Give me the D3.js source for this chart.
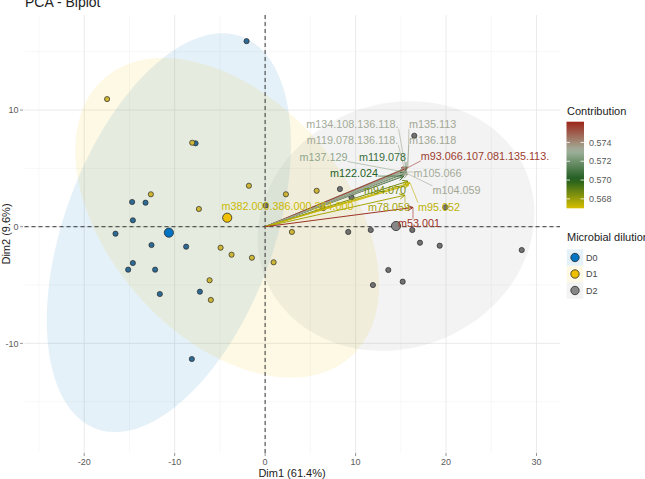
<!DOCTYPE html>
<html lang="en">
<head>
<meta charset="UTF-8">
<script src="https://cdn.jsdelivr.net/npm/d3@7"></script>
<title>PCA - Biplot</title>
<style>
  body { margin: 0; background: #fff; }
  svg { display: block; font-family: 'Liberation Sans', Arial, sans-serif; }
</style>
</head>
<body>
<svg id="chart" width="645" height="479"></svg>
<script>
// individuals, one list per microbial dilution group (Dim1, Dim2)
const groups = ["D0", "D1", "D2"];
const d0x = [-7.69, -14.70, -13.22, -14.62, -16.54, -12.56, -8.73, -14.62, -15.14, -12.16, -11.64, -7.21, -2.05, -8.10];
const d0y = [7.15, 2.12, 2.06, 0.55, -0.60, -1.57, -1.71, -3.11, -3.68, -3.68, -5.77, -5.57, 15.91, -11.34];
const d1x = [-8.06, -17.47, -12.63, -1.79, -7.32, -4.92, -3.71, -1.46, 0.94, -6.14, -6.00, 2.30, 5.70, 2.96, 6.43];
const d1y = [7.20, 10.94, 2.78, 3.51, 1.52, -1.80, -2.40, -2.66, -3.05, -4.59, -6.28, 2.78, 3.08, -0.45, 1.60];
const d2x = [0.06, 8.27, 9.55, 9.19, 11.68, 16.27, 17.12, 19.30, 28.37, 13.62, 15.21, 11.92, 16.49, 19.94];
const d2y = [1.82, 3.23, 2.52, -0.45, -0.28, -0.28, -1.37, -1.63, -2.00, -3.71, -4.71, -5.00, 7.80, 1.66];

// group means and their 95% ellipses (half width, half height, correlation)
const meanX = [-10.64, -4.19, 14.47];
const meanY = [-0.51, 0.77, 0.06];
const ellRx = [13.5, 16.8, 15.3];
const ellRy = [17.1, 13.7, 10.7];
const ellRho = [0.44, -0.42, 0.1];

// variables: arrow tips, contribution, and repelled label positions
const varNames = ["m134.108.136.118.", "m135.113", "m119.078.136.118.", "m136.118", "m137.129",
  "m119.078", "m93.066.107.081.135.113.", "m122.024", "m105.066", "m104.059",
  "m94.070", "m382.000.386.000.384.000", "m78.059", "m95.052", "m53.001"];
const varX = [15.58, 15.80, 15.46, 15.69, 15.35, 15.58, 15.69, 15.35, 15.69, 15.80, 15.80, 15.91, 15.46, 16.02, 16.35];
const varY = [4.86, 5.12, 4.77, 4.94, 4.69, 4.60, 5.03, 4.34, 4.69, 4.52, 3.90, 3.60, 2.70, 3.75, 1.65];
const varContrib = [0.5733, 0.5734, 0.5733, 0.5734, 0.5727, 0.5707, 0.5757, 0.5702, 0.5733, 0.5734,
  0.5686, 0.5672, 0.5678, 0.5674, 0.5759];
const labelX = [9.65, 18.51, 9.66, 18.51, 6.45, 12.98, 24.31, 9.82, 19.06, 21.16, 13.25, 2.47, 13.69, 19.23, 17.01];
const labelY = [8.80, 8.80, 7.43, 7.43, 6.00, 5.97, 6.06, 4.60, 4.60, 3.14, 3.14, 1.80, 1.69, 1.69, 0.32];

const contribTicks = [0.568, 0.570, 0.572, 0.574];
const contribRange = [0.567, 0.5762];
const gradientCols = ["#d6bf00", "#1e5c1e", "#a3b39f", "#9c2619"];

const xTicks = [-20, -10, 0, 10, 20, 30];
const xMinor = [-25, -15, -5, 5, 15, 25];
const yTicks = [-10, 0, 10];
const yMinor = [-15, -5, 5, 15];

const fills = ["#0073C2", "#EFC000", "#868686"];
const smallFill = ["#2d6a94", "#cdb536", "#717171"];

const svg = d3.select("#chart");
const x = d3.scaleLinear().domain([-26.6, 32.6]).range([24.5, 560]);
const y = d3.scaleLinear().domain([-19.4, 18.15]).range([453, 15]);

const cStops = d3.range(gradientCols.length).map(i => contribRange[0] + i * (contribRange[1] - contribRange[0]) / (gradientCols.length - 1));
const color = d3.scaleLinear().domain(cStops).range(gradientCols).interpolate(d3.interpolateRgb).clamp(true);

// grid
const grid = svg.append("g");
grid.selectAll("line.xmin").data(xMinor).enter().append("line")
  .attr("x1", d => x(d)).attr("x2", d => x(d)).attr("y1", 15).attr("y2", 453)
  .attr("stroke", "#f2f2f2").attr("stroke-width", 0.6);
grid.selectAll("line.ymin").data(yMinor).enter().append("line")
  .attr("y1", d => y(d)).attr("y2", d => y(d)).attr("x1", 24.5).attr("x2", 560)
  .attr("stroke", "#f2f2f2").attr("stroke-width", 0.6);
grid.selectAll("line.xmaj").data(xTicks).enter().append("line")
  .attr("x1", d => x(d)).attr("x2", d => x(d)).attr("y1", 15).attr("y2", 453)
  .attr("stroke", "#e8e8e8").attr("stroke-width", 0.9);
grid.selectAll("line.ymaj").data(yTicks).enter().append("line")
  .attr("y1", d => y(d)).attr("y2", d => y(d)).attr("x1", 24.5).attr("x2", 560)
  .attr("stroke", "#e8e8e8").attr("stroke-width", 0.9);

// ellipses
function ellipsePath(g) {
  const pts = d3.range(0, 121).map(i => {
    const t = i / 120 * 2 * Math.PI;
    const ex = meanX[g] + ellRx[g] * Math.cos(t);
    const ey = meanY[g] + ellRy[g] * (ellRho[g] * Math.cos(t) + Math.sqrt(1 - ellRho[g] * ellRho[g]) * Math.sin(t));
    return [x(ex), y(ey)];
  });
  return d3.line().curve(d3.curveLinearClosed)(pts);
}
svg.append("g").selectAll("path").data(groups).enter().append("path")
  .attr("d", (d, i) => ellipsePath(i))
  .attr("fill", (d, i) => fills[i]).attr("fill-opacity", 0.1);

// reference lines
svg.append("line").attr("x1", 24.5).attr("x2", 560).attr("y1", y(0)).attr("y2", y(0))
  .attr("stroke", "#222").attr("stroke-width", 0.9).attr("stroke-dasharray", "4,3");
svg.append("line").attr("x1", x(0)).attr("x2", x(0)).attr("y1", 15).attr("y2", 453)
  .attr("stroke", "#222").attr("stroke-width", 0.9).attr("stroke-dasharray", "4,3");

// axes ticks + labels
const axis = svg.append("g").attr("fill", "#5a5a5a").attr("font-size", 9);
axis.selectAll("text.xt").data(xTicks).enter().append("text")
  .attr("x", d => x(d)).attr("y", 465).attr("text-anchor", "middle").text(d => d);
axis.selectAll("line.xt").data(xTicks).enter().append("line")
  .attr("x1", d => x(d)).attr("x2", d => x(d)).attr("y1", 453).attr("y2", 456)
  .attr("stroke", "#666").attr("stroke-width", 0.7);
axis.selectAll("text.yt").data(yTicks).enter().append("text")
  .attr("x", 18.5).attr("y", d => y(d) + 3.2).attr("text-anchor", "end").text(d => d);
axis.selectAll("line.yt").data(yTicks).enter().append("line")
  .attr("y1", d => y(d)).attr("y2", d => y(d)).attr("x1", 20).attr("x2", 23)
  .attr("stroke", "#666").attr("stroke-width", 0.7);

svg.append("text").attr("x", 292).attr("y", 477).attr("text-anchor", "middle")
  .attr("font-size", 11).attr("fill", "#222").text("Dim1 (61.4%)");
svg.append("text").attr("transform", "translate(10,234) rotate(-90)").attr("text-anchor", "middle")
  .attr("font-size", 11).attr("fill", "#222").text("Dim2 (9.6%)");
svg.append("text").attr("x", 25).attr("y", 7).attr("font-size", 14).attr("fill", "#222").text("PCA - Biplot");

// individuals
const allX = [d0x, d1x, d2x], allY = [d0y, d1y, d2y];
groups.forEach((gname, g) => {
  svg.append("g").selectAll("circle").data(allX[g]).enter().append("circle")
    .attr("cx", d => x(d)).attr("cy", (d, i) => y(allY[g][i])).attr("r", 2.6)
    .attr("fill", smallFill[g]).attr("stroke", "#2a2a2a").attr("stroke-width", 0.7);
});
svg.append("g").selectAll("circle").data(groups).enter().append("circle")
  .attr("cx", (d, i) => x(meanX[i])).attr("cy", (d, i) => y(meanY[i])).attr("r", 4.6)
  .attr("fill", (d, i) => fills[i]).attr("stroke", "#2a2a2a").attr("stroke-width", 0.8);

// variable arrows
const arrows = svg.append("g").attr("fill", "none");
varNames.forEach((name, i) => {
  const x0 = x(0), y0 = y(0), x1 = x(varX[i]), y1 = y(varY[i]);
  const a = Math.atan2(y1 - y0, x1 - x0), h = 6;
  const c = color(varContrib[i]);
  arrows.append("path")
    .attr("d", `M${x0},${y0}L${x1},${y1}M${x1 - h * Math.cos(a - 0.45)},${y1 - h * Math.sin(a - 0.45)}L${x1},${y1}L${x1 - h * Math.cos(a + 0.45)},${y1 - h * Math.sin(a + 0.45)}`)
    .attr("stroke", c).attr("stroke-width", 1);
});

// labels with repel segments
const labs = svg.append("g").attr("font-size", 10.8);
varNames.forEach((name, i) => {
  const c = color(varContrib[i]);
  const t = labs.append("text").attr("x", x(labelX[i])).attr("y", y(labelY[i]) + 3.8)
    .attr("text-anchor", "middle").attr("fill", c).text(name);
  const b = t.node().getBBox();
  const px = x(varX[i]), py = y(varY[i]);
  const sx = Math.max(b.x, Math.min(px, b.x + b.width));
  const sy = Math.max(b.y + 2, Math.min(py, b.y + b.height - 1));
  if (Math.hypot(px - sx, py - sy) > 6) {
    labs.insert("line", "text").attr("x1", sx).attr("y1", sy).attr("x2", px).attr("y2", py)
      .attr("stroke", c).attr("stroke-width", 0.6);
  }
});

// contribution colour bar
const defs = svg.append("defs");
const lg = defs.append("linearGradient").attr("id", "cbar").attr("x1", 0).attr("x2", 0).attr("y1", 1).attr("y2", 0);
d3.range(0, 21).forEach(k => {
  const v = contribRange[0] + k / 20 * (contribRange[1] - contribRange[0]);
  lg.append("stop").attr("offset", k / 20).attr("stop-color", color(v));
});
const cb = d3.scaleLinear().domain(contribRange).range([208.3, 121.7]);
svg.append("text").attr("x", 567).attr("y", 115).attr("font-size", 11).attr("fill", "#222").text("Contribution");
svg.append("rect").attr("x", 566.5).attr("y", 121.7).attr("width", 17.5).attr("height", 86.6).attr("fill", "url(#cbar)");
svg.selectAll("line.cbt").data(contribTicks).enter().append("g").each(function (d) {
  const g = d3.select(this);
  g.append("line").attr("x1", 566.5).attr("x2", 570).attr("y1", cb(d)).attr("y2", cb(d)).attr("stroke", "#fff").attr("stroke-width", 0.8);
  g.append("line").attr("x1", 580.5).attr("x2", 584).attr("y1", cb(d)).attr("y2", cb(d)).attr("stroke", "#fff").attr("stroke-width", 0.8);
  g.append("text").attr("x", 589).attr("y", cb(d) + 3.2).attr("font-size", 9).attr("fill", "#5a5a5a").text(d3.format(".3f")(d));
});

// group legend
svg.append("text").attr("x", 567).attr("y", 241).attr("font-size", 11).attr("fill", "#222").text("Microbial dilution");
const leg = svg.append("g").selectAll("g").data(groups).enter().append("g")
  .attr("transform", (d, i) => `translate(575,${257.5 + i * 16.5})`);
leg.append("rect").attr("x", -8.2).attr("y", -8.2).attr("width", 16.4).attr("height", 16.4)
  .attr("fill", (d, i) => fills[i]).attr("fill-opacity", 0.1);
leg.append("circle").attr("r", 4.2).attr("fill", (d, i) => fills[i]).attr("stroke", "#2a2a2a").attr("stroke-width", 0.8);
leg.append("text").attr("x", 11).attr("y", 3.2).attr("font-size", 9).attr("fill", "#444").text(d => d);
</script>
</body>
</html>
